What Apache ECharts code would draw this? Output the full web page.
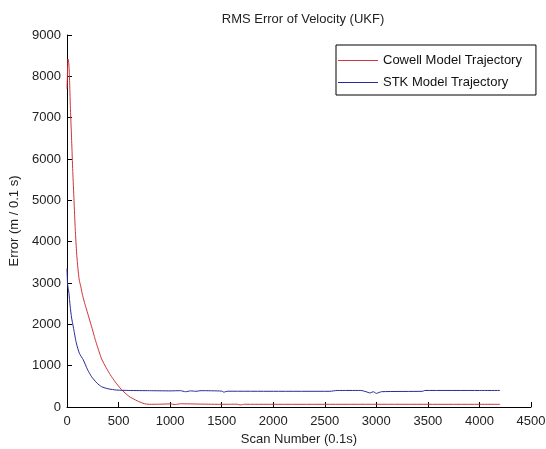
<!DOCTYPE html>
<html>
<head>
<meta charset="utf-8">
<script src="https://cdn.jsdelivr.net/npm/echarts@6/dist/echarts.min.js"></script>
<style>
  html, body { margin: 0; padding: 0; background: #fff; }
  #chart { width: 546px; height: 449px; }
</style>
</head>
<body>
<div id="chart"></div>
<script>
// data
const seriesNames = ['Cowell Model Trajectory', 'STK Model Trajectory']
const cowellScan = [0, 5, 10, 18, 25, 32, 45, 56, 68, 80, 94, 106, 119, 135, 151, 175, 200, 239, 280, 336, 380, 420, 470, 529, 600, 680, 737, 770, 800, 900, 1000, 1050, 1100, 1300, 1500, 1650, 1680, 1720, 2000, 2500, 3000, 3500, 4000, 4200]
const cowellErr = [7700, 8100, 8420, 8300, 7900, 7300, 6450, 5700, 5000, 4300, 3700, 3350, 3070, 2900, 2700, 2480, 2270, 1940, 1580, 1160, 950, 780, 600, 420, 260, 150, 90, 70, 65, 68, 75, 60, 78, 70, 65, 68, 50, 66, 65, 65, 66, 65, 65, 65]
const stkScan = [0, 5, 10, 19, 30, 45, 61, 90, 120, 158, 200, 239, 290, 336, 400, 481, 600, 800, 1000, 1100, 1150, 1200, 1250, 1300, 1500, 1520, 1560, 2000, 2550, 2620, 2850, 2900, 2940, 2970, 3000, 3050, 3450, 3470, 4000, 4200]
const stkErr = [3350, 3000, 2900, 2750, 2450, 2150, 1940, 1550, 1300, 1140, 900, 730, 580, 490, 440, 410, 400, 395, 390, 395, 370, 390, 380, 395, 385, 360, 382, 380, 380, 400, 400, 370, 340, 370, 330, 370, 380, 400, 400, 400]
const xTicks = [0, 500, 1000, 1500, 2000, 2500, 3000, 3500, 4000, 4500]
const yTicks = [0, 1000, 2000, 3000, 4000, 5000, 6000, 7000, 8000, 9000]

function pairs(xs, ys) {
  return xs.map((x, i) => [x, ys[i]])
}

const chartInstance = echarts.init(document.getElementById('chart'))
const font = 'Liberation Sans, Arial, sans-serif'
const option = {
  animation: false,
  backgroundColor: '#fff',
  title: {
    text: 'RMS Error of Velocity (UKF)',
    left: 298,
    textAlign: 'center',
    top: 8,
    textStyle: { fontFamily: font, fontSize: 13, fontWeight: 'normal', color: '#222' }
  },
  grid: { left: 67, right: 15, top: 35, bottom: 42, outerBoundsMode: 'none', containLabel: false },
  legend: {
    left: 336,
    top: 45,
    orient: 'vertical',
    itemWidth: 40,
    itemHeight: 1,
    itemGap: 9,
    icon: 'rect',
    padding: [9, 14, 6, 2],
    borderColor: '#000',
    borderWidth: 1,
    backgroundColor: '#fff',
    textStyle: { fontFamily: font, fontSize: 13, color: '#111' },
    data: seriesNames
  },
  xAxis: {
    type: 'value',
    min: xTicks[0],
    max: xTicks[xTicks.length - 1],
    interval: 500,
    name: 'Scan Number (0.1s)',
    nameLocation: 'middle',
    nameGap: 22,
    nameTextStyle: { fontFamily: font, fontSize: 13, color: '#222' },
    splitLine: { show: false },
    axisLine: { lineStyle: { color: '#000' } },
    axisTick: { inside: true, length: 5, lineStyle: { color: '#000' } },
    axisLabel: { fontFamily: font, fontSize: 13, color: '#222', margin: 8, formatter: v => String(v) }
  },
  yAxis: {
    type: 'value',
    min: yTicks[0],
    max: yTicks[yTicks.length - 1],
    interval: 1000,
    name: 'Error (m / 0.1 s)',
    nameLocation: 'middle',
    nameGap: 44,
    nameTextStyle: { fontFamily: font, fontSize: 13, color: '#222' },
    splitLine: { show: false },
    axisLine: { show: true, lineStyle: { color: '#000' } },
    axisTick: { show: true, inside: true, length: 5, lineStyle: { color: '#000' } },
    axisLabel: { fontFamily: font, fontSize: 13, color: '#222', margin: 6, formatter: v => String(v) }
  },
  series: [
    {
      name: seriesNames[0],
      type: 'line',
      data: pairs(cowellScan, cowellErr),
      showSymbol: false,
      symbol: 'none',
      smooth: 0.2,
      lineStyle: { width: 1, color: '#d0343c' },
      itemStyle: { color: '#d0343c' }
    },
    {
      name: seriesNames[1],
      type: 'line',
      data: pairs(stkScan, stkErr),
      showSymbol: false,
      symbol: 'none',
      smooth: 0.2,
      lineStyle: { width: 1, color: '#2a2a9c' },
      itemStyle: { color: '#2a2a9c' }
    }
  ]
}
chartInstance.setOption(option)
</script>
</body>
</html>
